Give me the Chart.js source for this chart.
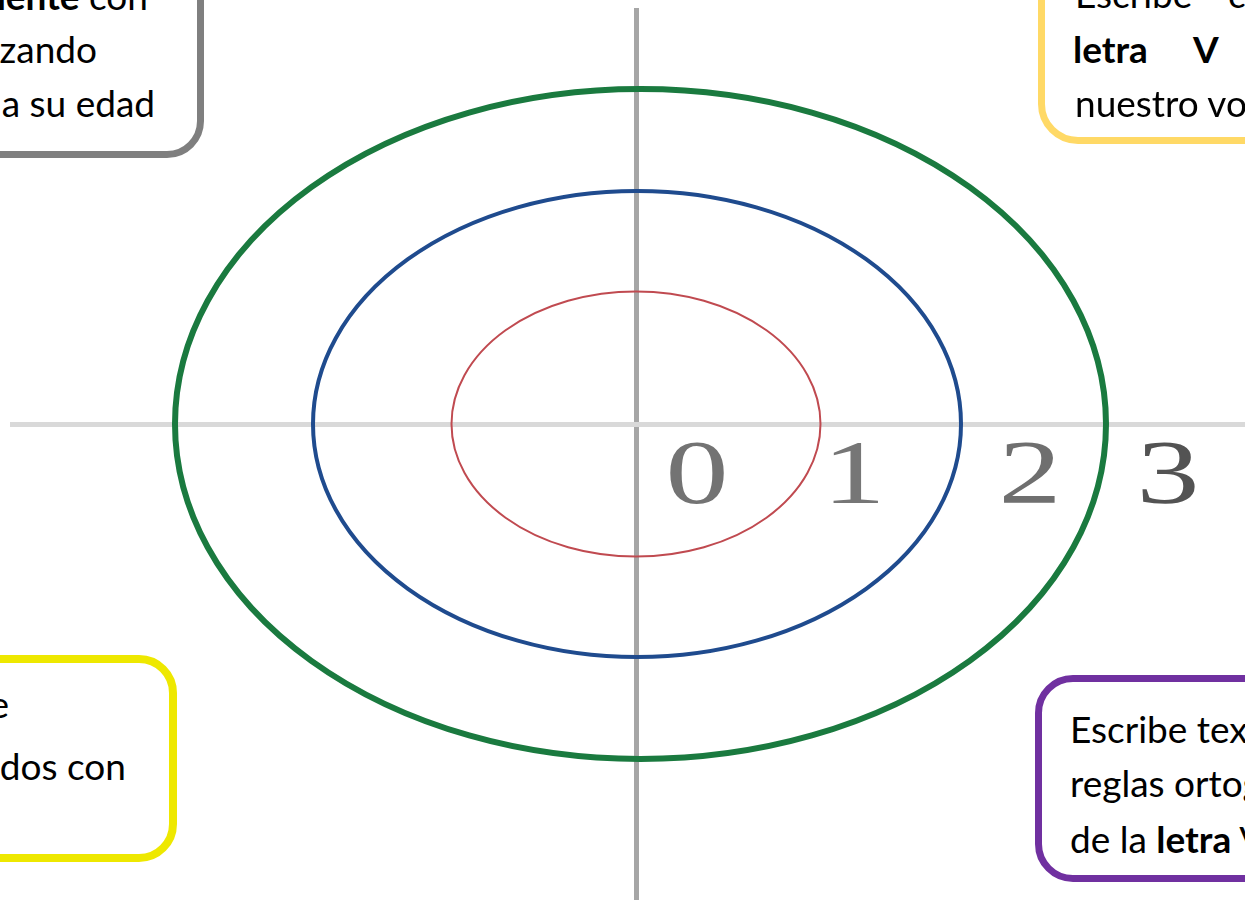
<!DOCTYPE html>
<html lang="es">
<head>
<meta charset="utf-8">
<title>Anillos</title>
<script src="https://cdn.jsdelivr.net/npm/chart.js@4.4.0/dist/chart.umd.min.js"></script>
<style>
  html, body { margin: 0; padding: 0; background: #fff; overflow: hidden; }
  #lienzo { position: relative; width: 1245px; height: 904px; overflow: hidden; }
  #grafico { position: absolute; left: 0; top: 0; width: 1245px; height: 904px; }
  .caja { position: absolute; box-sizing: border-box; background: #fff; }
  .linea { position: absolute; font-family: Lato, "Open Sans", sans-serif; font-size: 37px; line-height: 54px; color: #000; white-space: nowrap; }
</style>
</head>
<body>
<div id="lienzo">
  <div id="grafico"><canvas id="graficoAnillos"></canvas></div>

  <!-- caja gris arriba izquierda -->
  <div class="caja" style="left:-100px; top:-60px; width:304px; height:218px; border:7px solid #7f7f7f; border-radius:37px;"></div>
  <div class="linea" style="right:1097px; top:-31px;"><b>correctamente</b> con</div>
  <div class="linea" style="right:1148px; top:22px;">utilizando</div>
  <div class="linea" style="right:1090px; top:76px;">acorde a su edad</div>

  <!-- caja amarilla arriba derecha -->
  <div class="caja" style="left:1038px; top:-60px; width:300px; height:204px; border:7px solid #ffd966; border-radius:40px;"></div>
  <div class="linea" style="left:1075px; top:-33px;">Escribe</div>
  <div class="linea" style="left:1228px; top:-33px;">con</div>
  <div class="linea" style="left:1073px; top:22px;"><b>letra</b></div>
  <div class="linea" style="left:1193px; top:22px;"><b>V</b></div>
  <div class="linea" style="left:1075px; top:76px;">nuestro vocabulario</div>

  <!-- caja amarilla abajo izquierda -->
  <div class="caja" style="left:-100px; top:655px; width:277px; height:207px; border:8px solid #eee800; border-radius:38px;"></div>
  <div class="linea" style="right:1236px; top:677px;">de</div>
  <div class="linea" style="right:1119px; top:739px;">acompañados con</div>

  <!-- caja morada abajo derecha -->
  <div class="caja" style="left:1035px; top:675px; width:300px; height:207px; border:7px solid #7030a0; border-radius:38px;"></div>
  <div class="linea" style="left:1070px; top:702px;">Escribe textos con</div>
  <div class="linea" style="left:1070px; top:756px;">reglas ortográficas</div>
  <div class="linea" style="left:1070px; top:812px;">de la <b>letra</b> V</div>
</div>

<script>
// === DATOS ===
const anillos = ['rojo', 'azul', 'verde'];
const centroX = [0, 0.01, 0.045];
const radioX = [1.845, 3.24, 4.655];
const radioY = [1.325, 2.33, 3.35];
const coloresAnillo = ['#c04a50', '#1f4b8e', '#1a7a3f'];
const grosorAnillo = [2, 4, 6];

const etiquetas = ['0', '1', '2', '3'];
const posEtiquetas = [0.61, 2.18, 3.94, 5.32];
const coloresEtiqueta = ['#737373', '#767676', '#6f6f6f', '#535353'];

// === ELIPSES ===
const anillosPlugin = {
  id: 'anillos',
  afterDatasetsDraw(chart) {
    const { ctx, scales: { x, y } } = chart;
    chart.data.datasets.forEach(ds => {
      const p = ds.data[0];
      const cx = x.getPixelForValue(p.x);
      const cy = y.getPixelForValue(p.y);
      const rx = x.getPixelForValue(p.x + p.rx) - cx;
      const ry = cy - y.getPixelForValue(p.y + p.ry);
      ctx.save();
      ctx.beginPath();
      ctx.ellipse(cx, cy, rx, ry, 0, 0, Math.PI * 2);
      ctx.strokeStyle = ds.borderColor;
      ctx.lineWidth = ds.borderWidth;
      ctx.stroke();
      ctx.restore();
    });
  }
};

// === NUMEROS SOBRE EL EJE ===
const numerosPlugin = {
  id: 'numeros',
  afterDraw(chart) {
    const { ctx, scales: { x, y } } = chart;
    const base = y.getPixelForValue(0) + 79;
    ctx.save();
    ctx.font = '90px "Liberation Serif", "DejaVu Serif", serif';
    ctx.textAlign = 'center';
    ctx.textBaseline = 'alphabetic';
    etiquetas.forEach((t, i) => {
      ctx.save();
      ctx.translate(x.getPixelForValue(posEtiquetas[i]), base);
      ctx.scale(1.4, 1);
      ctx.fillStyle = coloresEtiqueta[i];
      ctx.fillText(t, 0, 0);
      ctx.restore();
    });
    ctx.restore();
  }
};

const ctx = document.getElementById('graficoAnillos').getContext('2d');
new Chart(ctx, {
  type: 'scatter',
  data: {
    datasets: anillos.map((nombre, i) => ({
      label: nombre,
      data: [{ x: centroX[i], y: 0, rx: radioX[i], ry: radioY[i] }],
      borderColor: coloresAnillo[i],
      borderWidth: grosorAnillo[i],
      pointRadius: 0
    }))
  },
  options: {
    responsive: true,
    maintainAspectRatio: false,
    animation: false,
    layout: { padding: { left: 10, top: 8, right: 0, bottom: 4 } },
    plugins: { legend: { display: false }, tooltip: { enabled: false } },
    scales: {
      x: {
        type: 'linear',
        min: -6.26,
        max: 6.09,
        afterBuildTicks: s => { s.ticks = [{ value: 0 }]; },
        ticks: { display: false },
        border: { display: false },
        grid: { color: '#a6a6a6', lineWidth: 5, drawTicks: false }
      },
      y: {
        type: 'linear',
        min: -4.76,
        max: 4.16,
        afterBuildTicks: s => { s.ticks = [{ value: 0 }]; },
        ticks: { display: false },
        border: { display: false },
        grid: { color: '#d9d9d9', lineWidth: 5, drawTicks: false }
      }
    }
  },
  plugins: [anillosPlugin, numerosPlugin]
});
</script>
</body>
</html>
